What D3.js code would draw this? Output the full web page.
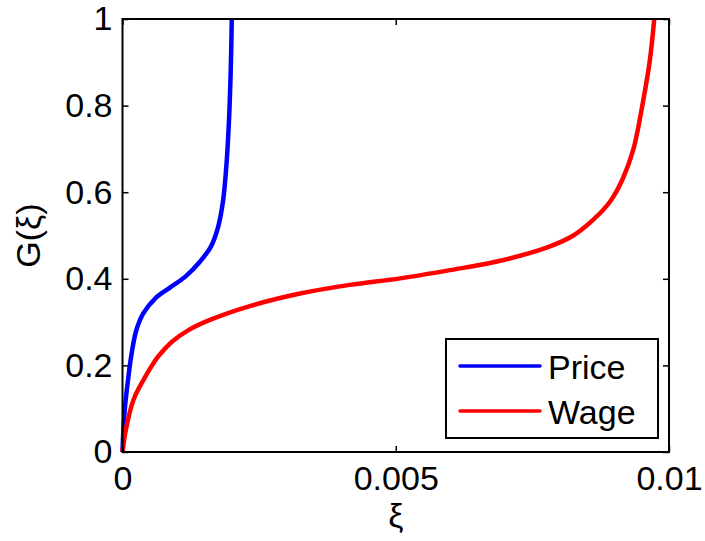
<!DOCTYPE html>
<html>
<head>
<meta charset="utf-8">
<script src="https://cdn.jsdelivr.net/npm/d3@7"></script>
<style>
  html, body { margin: 0; padding: 0; background: #fff; }
  svg { display: block; font-family: "Liberation Sans", Arial, sans-serif; }
</style>
</head>
<body>
<div id="chart"></div>
<script>
// G(xi) curves
const priceXi = [0, 0.00002, 0.00005, 0.0001, 0.00016, 0.00025, 0.00038, 0.0006, 0.00085, 0.00115, 0.00142, 0.00162, 0.00175, 0.00184, 0.0019, 0.00195, 0.00198, 0.0020];
const priceG  = [0, 0.06,    0.11,    0.165,  0.222,   0.28,    0.32,    0.355,  0.378,   0.405,   0.44,    0.475,   0.52,    0.58,    0.66,   0.77,    0.88,    1.0];

const wageXi = [0, 0.00006, 0.0002, 0.0004, 0.00065, 0.0009, 0.0012, 0.0016, 0.00233, 0.00325, 0.00416, 0.00508, 0.00599, 0.00685, 0.00776, 0.00825, 0.00861, 0.00892, 0.00915, 0.00935, 0.00953, 0.00965, 0.00973];
const wageG  = [0, 0.05,    0.12,   0.17,   0.22,    0.254,  0.281,  0.305,  0.337,   0.366,   0.386,   0.401,   0.42,    0.44,    0.472,   0.5,     0.536,   0.578,   0.63,    0.70,    0.813,   0.905,   1.0];

const seriesNames = ['Price', 'Wage'];
const seriesColors = ['#0000ff', '#ff0000'];

const xTicks = [0, 0.005, 0.01];
const xTickLabels = ['0', '0.005', '0.01'];
const yTicks = [0, 0.2, 0.4, 0.6, 0.8, 1];
const yTickLabels = ['0', '0.2', '0.4', '0.6', '0.8', '1'];

const W = 705, H = 541;
const margin = { left: 122.5, right: 36, top: 19, bottom: 89 };
const FONT = 34;

const svg = d3.select('#chart').append('svg')
    .attr('width', W).attr('height', H);

const x = d3.scaleLinear().domain([0, 0.01]).range([margin.left, W - margin.right]);
const y = d3.scaleLinear().domain([0, 1]).range([H - margin.bottom, margin.top]);

const series = [
    priceXi.map((v, i) => [v, priceG[i]]),
    wageXi.map((v, i) => [v, wageG[i]]),
];

const line = d3.line()
    .x(d => x(d[0])).y(d => y(d[1]))
    .curve(d3.curveCatmullRom.alpha(0.5));

const plot = svg.append('g');
series.forEach((s, i) => {
    plot.append('path')
        .datum(s)
        .attr('d', line)
        .attr('fill', 'none')
        .attr('stroke', seriesColors[i])
        .attr('stroke-width', 4.5)
        .attr('stroke-linejoin', 'round');
});

// axes: ticks point inward on all four sides
function styleAxis(g) {
    g.select('.domain').remove();
    g.selectAll('.tick line').attr('stroke', '#000').attr('stroke-width', 1.5);
    g.selectAll('.tick text').attr('fill', '#000').attr('font-size', FONT + 'px')
        .attr('font-family', '"Liberation Sans", Arial, sans-serif');
}

svg.append('g')
    .attr('transform', `translate(0,${y(0)})`)
    .call(d3.axisBottom(x).tickValues(xTicks).tickFormat((d, i) => xTickLabels[i])
        .tickSizeInner(-6).tickSizeOuter(0).tickPadding(14))
    .call(styleAxis);

svg.append('g')
    .attr('transform', `translate(0,${y(1)})`)
    .call(d3.axisTop(x).tickValues(xTicks).tickFormat('')
        .tickSizeInner(-6).tickSizeOuter(0))
    .call(styleAxis);

svg.append('g')
    .attr('transform', `translate(${x(0)},0)`)
    .call(d3.axisLeft(y).tickValues(yTicks).tickFormat((d, i) => yTickLabels[i])
        .tickSizeInner(-6).tickSizeOuter(0).tickPadding(10))
    .call(styleAxis);

svg.append('g')
    .attr('transform', `translate(${x(0.01)},0)`)
    .call(d3.axisRight(y).tickValues(yTicks).tickFormat('')
        .tickSizeInner(-6).tickSizeOuter(0))
    .call(styleAxis);

// box
svg.append('rect')
    .attr('x', x(0)).attr('y', y(1))
    .attr('width', x(0.01) - x(0)).attr('height', y(0) - y(1))
    .attr('fill', 'none').attr('stroke', '#000').attr('stroke-width', 2);

// axis labels
svg.append('text')
    .attr('x', (x(0) + x(0.01)) / 2).attr('y', 527)
    .attr('text-anchor', 'middle')
    .attr('font-size', FONT + 'px')
    .text('ξ');

svg.append('text')
    .attr('transform', `translate(40,${(y(0) + y(1)) / 2}) rotate(-90)`)
    .attr('text-anchor', 'middle')
    .attr('font-size', FONT + 'px')
    .text('G(ξ)');

// legend
const legend = svg.append('g');
legend.append('rect')
    .attr('x', 446).attr('y', 339).attr('width', 212).attr('height', 99)
    .attr('fill', '#fff').attr('stroke', '#000').attr('stroke-width', 2);

seriesNames.forEach((name, i) => {
    const ly = 366 + i * 45;
    legend.append('line')
        .attr('x1', 460).attr('x2', 540).attr('y1', ly).attr('y2', ly)
        .attr('stroke', seriesColors[i]).attr('stroke-width', 3.5)
        .attr('stroke-linecap', 'round');
    legend.append('text')
        .attr('x', 548).attr('y', ly + 13)
        .attr('font-size', FONT + 'px')
        .text(name);
});
</script>
</body>
</html>
